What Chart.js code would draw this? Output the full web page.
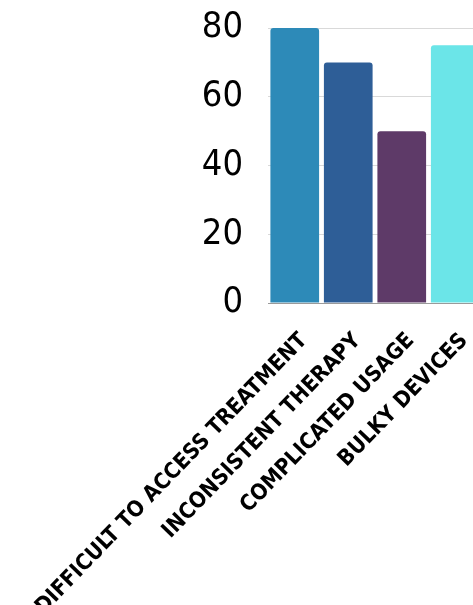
<!DOCTYPE html>
<html>
<head>
<meta charset="utf-8">
<script src="https://cdn.jsdelivr.net/npm/chart.js@4"></script>
<style>
  html, body { margin: 0; padding: 0; overflow: hidden; background: #fff; }
  #wrap { width: 473px; height: 605px; overflow: hidden; }
</style>
</head>
<body>
<div id="wrap"><canvas id="chart" width="482" height="605"></canvas></div>
<script>
const categories = ['DIFFICULT TO ACCESS TREATMENT', 'INCONSISTENT THERAPY', 'COMPLICATED USAGE', 'BULKY DEVICES'];
const values = [80, 70, 50, 75];
const barColors = ['#2D8AB8', '#2E5E97', '#5E3A68', '#6BE5E8'];
const yTicks = [0, 20, 40, 60, 80];

const font = "'Liberation Sans Narrow', 'DejaVu Sans Condensed', 'Roboto', sans-serif";

const ctx = document.getElementById('chart').getContext('2d');

new Chart(ctx, {
  type: 'bar',
  data: {
    labels: categories,
    datasets: [
      {
        data: values,
        backgroundColor: barColors,
        borderRadius: 3,
        borderSkipped: 'bottom',
        categoryPercentage: 1,
        barPercentage: 0.91,
      },
    ],
  },
  options: {
    responsive: false,
    animation: false,
    layout: { padding: { top: 28, left: 0, right: 0, bottom: 0 } },
    plugins: {
      legend: { display: false },
      tooltip: { enabled: false },
    },
    scales: {
      x: {
        grid: { display: false, drawTicks: false },
        border: { display: true, color: '#9a9a9a', width: 1 },
        ticks: {
          color: '#000',
          font: { family: font, size: 22, weight: 'bold' },
          minRotation: 46,
          maxRotation: 46,
          padding: 25,
          labelOffset: 9,
          autoSkip: false,
        },
        afterFit: (scale) => {
          scale.height = 302;
          scale.paddingLeft = 0;
          scale.paddingRight = 0;
        },
      },
      y: {
        min: 0,
        max: 80,
        afterBuildTicks: (scale) => {
          scale.ticks = yTicks.map((v) => ({ value: v }));
        },
        grid: { color: '#d9d9d9', drawTicks: false },
        border: { display: false },
        ticks: {
          color: '#000',
          font: { family: font, size: 36 },
          padding: 25,
        },
        afterFit: (scale) => {
          scale.width = 268;
          scale.paddingTop = 0;
          scale.paddingBottom = 0;
        },
      },
    },
  },
});
</script>
</body>
</html>
